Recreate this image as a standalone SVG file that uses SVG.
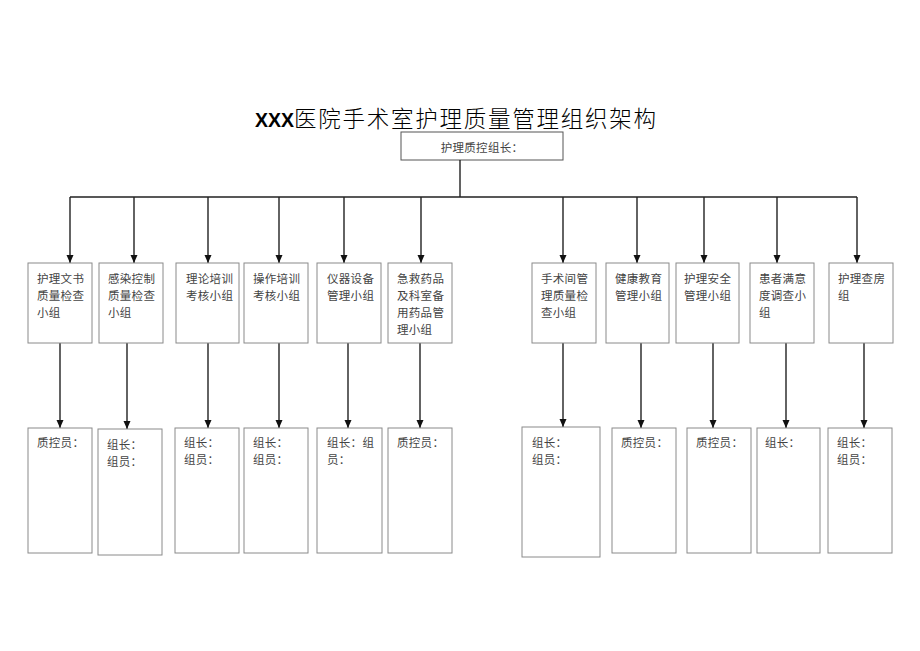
<svg xmlns="http://www.w3.org/2000/svg" width="920" height="651" viewBox="0 0 920 651">
<style>
.bg{fill:#fff}
.box{fill:#fff;stroke:#8a8a8a;stroke-width:1}
.top{fill:#fff;stroke:#555;stroke-width:1}
.t{font-family:"Noto Sans CJK SC","Liberation Serif",serif;font-size:11.5px;fill:#444;letter-spacing:0.3px}
.con{stroke:#222;stroke-width:1.4;fill:none}
.title{font-family:"Noto Sans CJK SC","Liberation Sans",sans-serif;fill:#000}
</style>
<defs>
<marker id="arr" markerUnits="userSpaceOnUse" markerWidth="8" markerHeight="8" viewBox="0 0 8 8" refX="8" refY="4" orient="auto">
<path d="M0,0.5 L8,4 L0,7.5 z" fill="#111"/>
</marker>
</defs>
<rect class="bg" x="0" y="0" width="920" height="651"/>
<text class="title" x="255" y="127"><tspan font-family="Liberation Sans, sans-serif" font-weight="bold" font-size="19.5">XXX</tspan><tspan font-size="22.5" font-weight="300" letter-spacing="1.75">医院手术室护理质量管理组织架构</tspan></text>

<g id="root">
<rect class="top" x="401" y="132" width="162" height="28"/>
<text class="t" x="482" y="152" text-anchor="middle" font-size="12.5">护理质控组长：</text>
</g>

<g id="connectors">
<path class="con" d="M460,160 V197 M70,197 H857"/>
<path class="con" marker-end="url(#arr)" d="M70,197 V263"/>
<path class="con" marker-end="url(#arr)" d="M134,197 V263"/>
<path class="con" marker-end="url(#arr)" d="M208,197 V263"/>
<path class="con" marker-end="url(#arr)" d="M279,197 V263"/>
<path class="con" marker-end="url(#arr)" d="M344,197 V263"/>
<path class="con" marker-end="url(#arr)" d="M421,197 V263"/>
<path class="con" marker-end="url(#arr)" d="M563,197 V263"/>
<path class="con" marker-end="url(#arr)" d="M637,197 V263"/>
<path class="con" marker-end="url(#arr)" d="M704,197 V263"/>
<path class="con" marker-end="url(#arr)" d="M777,197 V263"/>
<path class="con" marker-end="url(#arr)" d="M857,197 V263"/>
<path class="con" marker-end="url(#arr)" d="M60,343 V428"/>
<path class="con" marker-end="url(#arr)" d="M127,343 V429"/>
<path class="con" marker-end="url(#arr)" d="M208,343 V428"/>
<path class="con" marker-end="url(#arr)" d="M279,343 V428"/>
<path class="con" marker-end="url(#arr)" d="M348,343 V428"/>
<path class="con" marker-end="url(#arr)" d="M420,343 V428"/>
<path class="con" marker-end="url(#arr)" d="M563,343 V427"/>
<path class="con" marker-end="url(#arr)" d="M641,343 V428"/>
<path class="con" marker-end="url(#arr)" d="M713,343 V428"/>
<path class="con" marker-end="url(#arr)" d="M786,343 V428"/>
<path class="con" marker-end="url(#arr)" d="M864,343 V428"/>
</g>

<g id="g1"><rect class="box" x="28" y="263" width="64" height="80"/>
<text class="t" x="37" y="283">护理文书</text><text class="t" x="37" y="300">质量检查</text><text class="t" x="37" y="317">小组</text></g>
<g id="g2"><rect class="box" x="99" y="263" width="64" height="80"/>
<text class="t" x="108" y="283">感染控制</text><text class="t" x="108" y="300">质量检查</text><text class="t" x="108" y="317">小组</text></g>
<g id="g3"><rect class="box" x="176" y="263" width="63" height="80"/>
<text class="t" x="186" y="283">理论培训</text><text class="t" x="186" y="300">考核小组</text></g>
<g id="g4"><rect class="box" x="244" y="263" width="64" height="80"/>
<text class="t" x="253" y="283">操作培训</text><text class="t" x="253" y="300">考核小组</text></g>
<g id="g5"><rect class="box" x="317" y="263" width="64" height="80"/>
<text class="t" x="327" y="283">仪器设备</text><text class="t" x="327" y="300">管理小组</text></g>
<g id="g6"><rect class="box" x="388" y="263" width="64" height="80"/>
<text class="t" x="397" y="283">急救药品</text><text class="t" x="397" y="300">及科室备</text><text class="t" x="397" y="317">用药品管</text><text class="t" x="397" y="334">理小组</text></g>
<g id="g7"><rect class="box" x="532" y="263" width="64" height="80"/>
<text class="t" x="541" y="283">手术间管</text><text class="t" x="541" y="300">理质量检</text><text class="t" x="541" y="317">查小组</text></g>
<g id="g8"><rect class="box" x="606" y="263" width="63" height="80"/>
<text class="t" x="615" y="283">健康教育</text><text class="t" x="615" y="300">管理小组</text></g>
<g id="g9"><rect class="box" x="676" y="263" width="63" height="80"/>
<text class="t" x="684" y="283">护理安全</text><text class="t" x="684" y="300">管理小组</text></g>
<g id="g10"><rect class="box" x="750" y="263" width="64" height="80"/>
<text class="t" x="759" y="283">患者满意</text><text class="t" x="759" y="300">度调查小</text><text class="t" x="759" y="317">组</text></g>
<g id="g11"><rect class="box" x="829" y="263" width="64" height="80"/>
<text class="t" x="838" y="283">护理查房</text><text class="t" x="838" y="300">组</text></g>

<g id="m1"><rect class="box" x="28" y="428" width="64" height="125"/>
<text class="t" x="37" y="447">质控员：</text></g>
<g id="m2"><rect class="box" x="98" y="429" width="64" height="126"/>
<text class="t" x="107" y="449">组长：</text><text class="t" x="107" y="466">组员：</text></g>
<g id="m3"><rect class="box" x="175" y="428" width="64" height="125"/>
<text class="t" x="184" y="447">组长：</text><text class="t" x="184" y="464">组员：</text></g>
<g id="m4"><rect class="box" x="244" y="428" width="64" height="125"/>
<text class="t" x="253" y="447">组长：</text><text class="t" x="253" y="464">组员：</text></g>
<g id="m5"><rect class="box" x="317" y="428" width="65" height="125"/>
<text class="t" x="327" y="447">组长：组</text><text class="t" x="327" y="464">员：</text></g>
<g id="m6"><rect class="box" x="388" y="428" width="64" height="125"/>
<text class="t" x="397" y="447">质控员：</text></g>
<g id="m7"><rect class="box" x="522" y="427" width="78" height="130"/>
<text class="t" x="532" y="447">组长：</text><text class="t" x="532" y="464">组员：</text></g>
<g id="m8"><rect class="box" x="612" y="428" width="64" height="125"/>
<text class="t" x="621" y="447">质控员：</text></g>
<g id="m9"><rect class="box" x="687" y="428" width="64" height="125"/>
<text class="t" x="696" y="447">质控员：</text></g>
<g id="m10"><rect class="box" x="757" y="428" width="63" height="125"/>
<text class="t" x="765" y="447">组长：</text></g>
<g id="m11"><rect class="box" x="828" y="428" width="64" height="125"/>
<text class="t" x="837" y="447">组长：</text><text class="t" x="837" y="464">组员：</text></g>
</svg>
